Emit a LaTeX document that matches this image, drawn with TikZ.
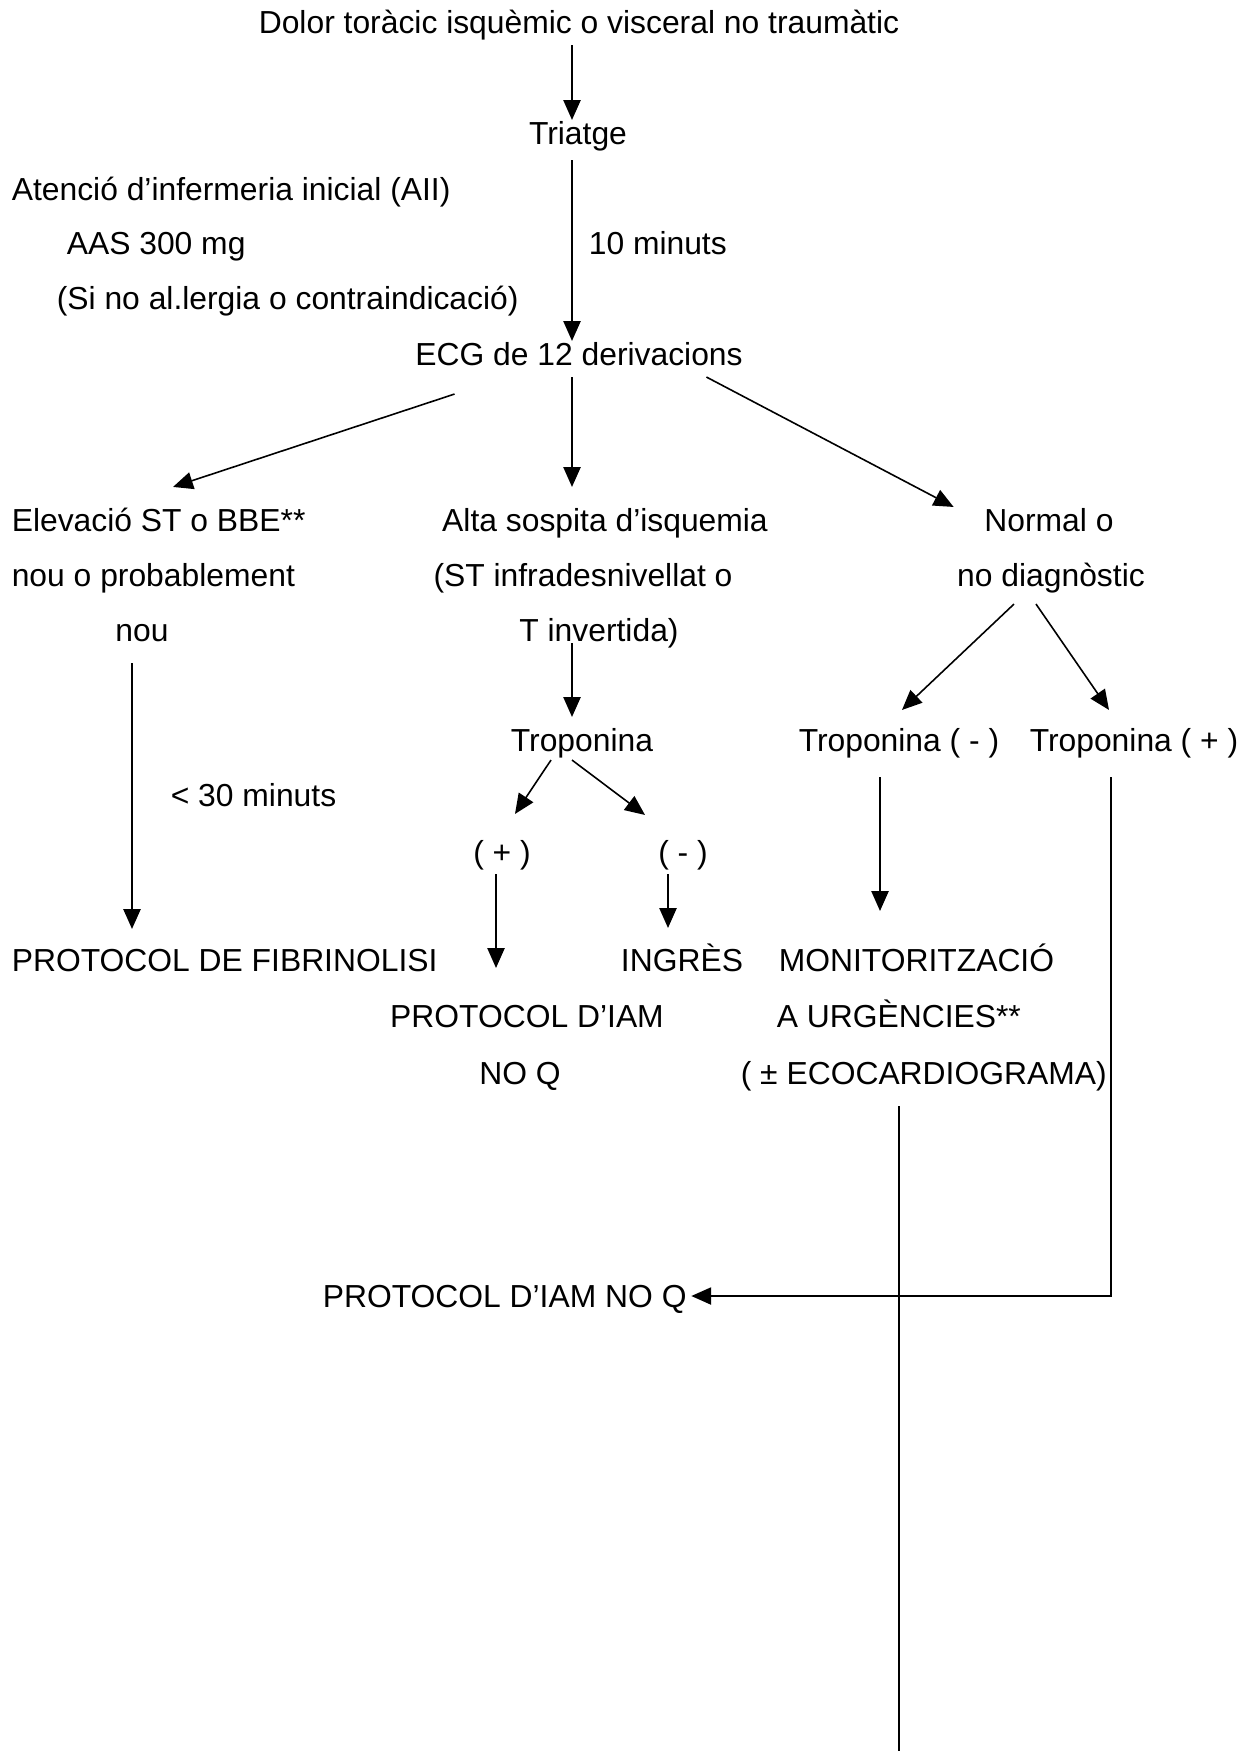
\documentclass[tikz,border=0pt]{standalone}
\usepackage{fontspec}
\setmainfont{Liberation Sans}
\usetikzlibrary{arrows.meta}

\begin{document}
\begin{tikzpicture}[x=1.325cm, y=1.325cm, line width=0.6pt,
    txt/.style={inner sep=0pt, text height=10.25pt, text depth=1.25pt, font=\fontsize{12}{14}\selectfont},
    arr/.style={-{Triangle[length=7.5pt, width=6.5pt]}}]
    \useasboundingbox (0,0) rectangle (12.56,-17.51);

    \node[txt] (dolor) at (5.79,-0.22) {Dolor toràcic isquèmic o visceral no traumàtic};
    \node[txt] (triatge) at (5.78,-1.33) {Triatge};
    \node[txt, anchor=west] (aii) at (0.11,-1.89) {Atenció d’infermeria inicial (AII)};
    \node[txt, anchor=west] (aas) at (0.66,-2.43) {AAS 300 mg};
    \node[txt, anchor=west] (alerg) at (0.56,-2.98) {(Si no al.lergia o contraindicació)};
    \node[txt, anchor=west] (deumin) at (5.88,-2.43) {10 minuts};
    \node[txt] (ecg) at (5.79,-3.54) {ECG de 12 derivacions};

    \node[txt, anchor=west] (elev1) at (0.11,-5.20) {Elevació ST o BBE**};
    \node[txt, anchor=west] (elev2) at (0.11,-5.75) {nou o probablement};
    \node[txt] (elev3) at (1.42,-6.30) {nou};
    \node[txt] (alta1) at (6.05,-5.20) {Alta sospita d’isquemia};
    \node[txt] (alta2) at (5.83,-5.75) {(ST infradesnivellat o};
    \node[txt] (alta3) at (5.99,-6.30) {T invertida)};
    \node[txt] (norm1) at (10.49,-5.20) {Normal o};
    \node[txt] (norm2) at (10.51,-5.75) {no diagnòstic};

    \node[txt] (trop) at (5.82,-7.40) {Troponina};
    \node[txt] (tropneg) at (8.99,-7.40) {Troponina ( - )};
    \node[txt] (troppos) at (11.34,-7.40) {Troponina ( + )};
    \node[txt, anchor=west] (trentamin) at (1.70,-7.95) {\textless{} 30 minuts};
    \node[txt] (pos) at (5.02,-8.52) {( + )};
    \node[txt] (neg) at (6.83,-8.52) {( - )};

    \node[txt, anchor=west] (fibri) at (0.11,-9.60) {PROTOCOL DE FIBRINOLISI};
    \node[txt] (ingres) at (6.82,-9.60) {INGRÈS};
    \node[txt, anchor=west] (monit) at (7.78,-9.60) {MONITORITZACIÓ};
    \node[txt] (iam1) at (5.27,-10.16) {PROTOCOL D’IAM};
    \node[txt, anchor=west] (urg) at (7.76,-10.16) {A URGÈNCIES**};
    \node[txt] (iam2) at (5.20,-10.73) {NO Q};
    \node[txt, anchor=west] (eco) at (7.40,-10.73) {( ± ECOCARDIOGRAMA)};

    \node[txt, anchor=west] (iamnoq) at (3.22,-12.96) {PROTOCOL D’IAM NO Q};
    \coordinate (fi) at (8.99,-17.51);

    \draw[arr] ([shift={(-0.07,-0.07)}]dolor.south) -- ([shift={(-0.06,-0.03)}]triatge.north);
    \draw[arr] ([shift={(-0.06,-0.11)}]triatge.south) -- ([shift={(-0.07,-0.03)}]ecg.north);

    \draw[arr] ([shift={(0.40,-0.24)}]ecg.south west) -- ([shift={(1.62,0.17)}]elev1.north west);
    \draw[arr] ([shift={(-0.07,-0.07)}]ecg.south) -- ([shift={(-0.33,0.17)}]alta1.north);
    \draw[arr] ([shift={(-0.37,-0.07)}]ecg.south east) -- ([shift={(-0.30,-0.03)}]norm1.north west);

    \draw[arr] ([shift={(-0.10,-0.17)}]elev3.south) -- ([shift={(1.21,0.15)}]fibri.north west);
    \draw[arr] ([shift={(-0.27,0.03)}]alta3.south) -- ([shift={(-0.10,0.07)}]trop.north);
    \draw[arr] ([shift={(-0.31,-0.04)}]trop.south) -- ([shift={(0.13,0.22)}]pos.north);
    \draw[arr] ([shift={(-0.10,-0.04)}]trop.south) -- ([shift={(-0.38,0.21)}]neg.north);
    \draw[arr] ([shift={(-0.06,-0.06)}]pos.south) -- ([shift={(-0.31,0.32)}]iam1.north);
    \draw[arr] ([shift={(-0.15,-0.06)}]neg.south) -- ([shift={(-0.14,0.16)}]ingres.north);

    \draw[arr] ([shift={(-0.37,-0.13)}]norm2.south) -- ([shift={(0.03,0.14)}]tropneg.north);
    \draw[arr] ([shift={(-0.15,-0.13)}]norm2.south) -- ([shift={(-0.25,0.14)}]troppos.north);
    \draw[arr] ([shift={(-0.19,-0.21)}]tropneg.south) -- ([shift={(1.02,0.33)}]monit.north west);
    \draw[arr] ([shift={(-0.23,-0.21)}]troppos.south) |- ([shift={(0.04,0)}]iamnoq.east);
    \draw ([shift={(1.59,-0.17)}]eco.south west) -- (fi);

\end{tikzpicture}
\end{document}
